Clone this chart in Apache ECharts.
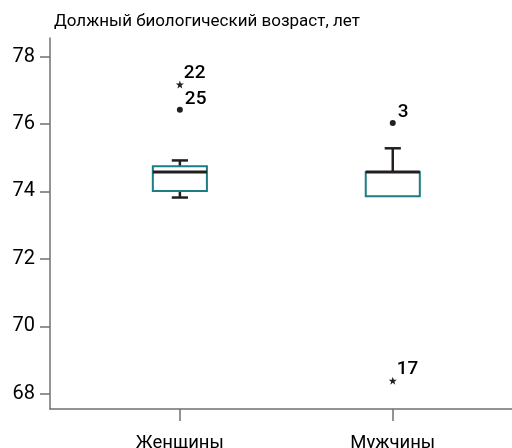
<!DOCTYPE html>
<html><head><meta charset="utf-8">
<script src="https://cdn.jsdelivr.net/npm/echarts@6/dist/echarts.min.js"></script>
<style>html,body{margin:0;padding:0;background:#fff}#c{width:512px;height:448px}</style>
</head><body><div id="c"></div>
<script>
var categories = ['Женщины', 'Мужчины'];
// [low whisker, Q1, median, Q3, high whisker]
var boxWomen = [73.82, 74.01, 74.58, 74.75, 74.92];
var boxMen = [73.86, 73.86, 74.58, 74.58, 75.28];
// outliers: [categoryIndex, value, label]
var circleOutliers = [[0, 76.42, '25'], [1, 76.03, '3']];
var starOutliers = [[0, 77.17, '22'], [1, 68.39, '17']];
var yTicks = [68, 70, 72, 74, 76, 78];
var yTitle = 'Должный биологический возраст, лет';

var FONT = 'Roboto';
var STAR = 'path://M0,-10 L2.35,-3.24 L9.51,-3.09 L3.8,1.24 L5.88,8.09 L0,4 L-5.88,8.09 L-3.8,1.24 L-9.51,-3.09 L-2.35,-3.24 Z';

var boxes = [boxWomen, boxMen].map(function (b, i) { return [i + 1].concat(b); });

function renderBox(params, api) {
  var x = api.value(0);
  var pLow = api.coord([x, api.value(1)]);
  var pQ1 = api.coord([x, api.value(2)]);
  var pMed = api.coord([x, api.value(3)]);
  var pQ3 = api.coord([x, api.value(4)]);
  var pHigh = api.coord([x, api.value(5)]);
  var hw = api.size([0.127, 0])[0];
  var cw = api.size([0.038, 0])[0];
  var cx = pMed[0];
  var black = '#231f20';
  var ch = [];
  if (pHigh[1] < pQ3[1] - 0.5) {
    ch.push({type: 'line', shape: {x1: cx, y1: pQ3[1], x2: cx, y2: pHigh[1]}, style: {stroke: black, lineWidth: 2.5}});
    ch.push({type: 'line', shape: {x1: cx - cw, y1: pHigh[1], x2: cx + cw, y2: pHigh[1]}, style: {stroke: black, lineWidth: 2.5}});
  }
  if (pLow[1] > pQ1[1] + 0.5) {
    ch.push({type: 'line', shape: {x1: cx, y1: pQ1[1], x2: cx, y2: pLow[1]}, style: {stroke: black, lineWidth: 2.5}});
    ch.push({type: 'line', shape: {x1: cx - cw, y1: pLow[1], x2: cx + cw, y2: pLow[1]}, style: {stroke: black, lineWidth: 2.5}});
  }
  ch.push({type: 'rect', shape: {x: cx - hw, y: pQ3[1], width: 2 * hw, height: pQ1[1] - pQ3[1]},
    style: {fill: '#fff', stroke: '#1b7d86', lineWidth: 2}});
  ch.push({type: 'line', shape: {x1: cx - hw, y1: pMed[1], x2: cx + hw, y2: pMed[1]}, style: {stroke: black, lineWidth: 3}});
  return {type: 'group', children: ch};
}

function toScatter(list) {
  return list.map(function (d) { return {value: [d[0] + 1, d[1]], name: d[2]}; });
}

var labelStyle = {
  show: true, formatter: '{b}', position: [8, 2], align: 'left', verticalAlign: 'bottom',
  color: '#000', fontSize: 19, fontWeight: 500, fontFamily: FONT
};

var chart = echarts.init(document.getElementById('c'), null, {renderer: 'canvas'});
chart.setOption({
  animation: false,
  backgroundColor: '#fff',
  grid: {left: 50, right: 0, top: 38, bottom: 39, containLabel: false, outerBoundsMode: 'none'},
  title: {text: yTitle, left: 49, top: 8, textStyle: {fontFamily: FONT, fontSize: 17, fontWeight: 'normal', color: '#000'}},
  xAxis: {
    type: 'value', min: 0.39, max: 2.56,
    splitLine: {show: false},
    axisLine: {show: true, onZero: false, lineStyle: {color: '#707070', width: 1.5}},
    axisTick: {show: true, length: 12, customValues: [1, 2], lineStyle: {color: '#707070', width: 1.5}},
    axisLabel: {customValues: [1, 2], margin: 25, fontSize: 18.5, fontFamily: FONT, color: '#000',
      formatter: function (v) { return categories[Math.round(v) - 1] || ''; }}
  },
  yAxis: {
    type: 'value', min: 67.55, max: 78.55,
    splitLine: {show: false},
    axisLine: {show: true, lineStyle: {color: '#707070', width: 1.5}},
    axisTick: {show: true, length: 10, customValues: yTicks, lineStyle: {color: '#707070', width: 1.5}},
    axisLabel: {customValues: yTicks, margin: 15, fontSize: 20, fontFamily: FONT, color: '#000'}
  },
  series: [
    {type: 'custom', renderItem: renderBox, data: boxes, encode: {x: 0, y: [1, 2, 3, 4, 5]}, z: 2},
    {type: 'scatter', symbol: 'circle', symbolSize: 6, data: toScatter(circleOutliers),
      itemStyle: {color: '#231f20', opacity: 1}, label: labelStyle, z: 3},
    {type: 'scatter', symbol: STAR, symbolSize: 8, data: toScatter(starOutliers),
      itemStyle: {color: '#231f20', opacity: 1}, label: labelStyle, z: 3}
  ]
});
</script>
</body></html>
